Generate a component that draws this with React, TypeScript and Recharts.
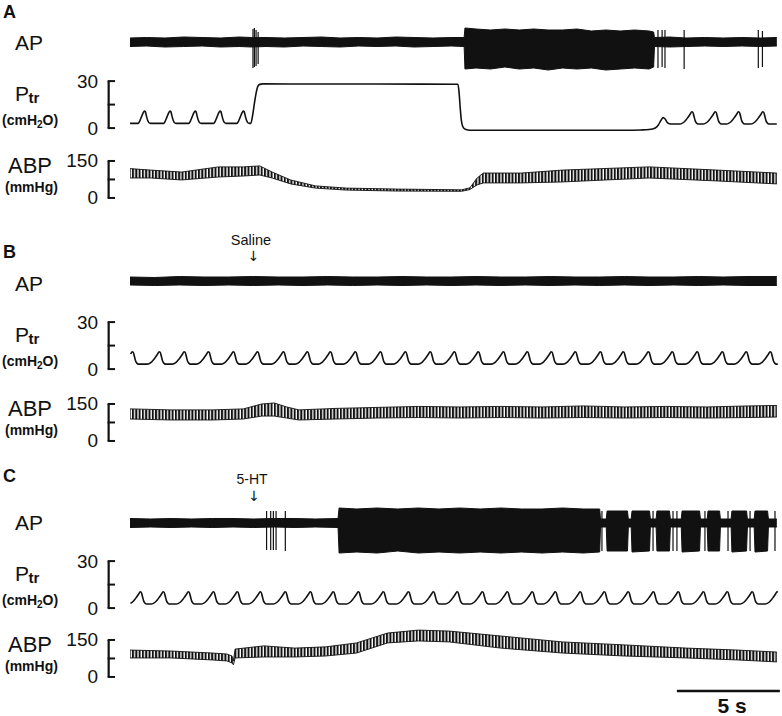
import React from 'react';
import { ComposedChart, Area, Line, XAxis, YAxis, ReferenceLine } from 'recharts';

// ---------------- DATA ----------------
// Time axis in seconds (0 = start of every trace)

// Breath shape templates (time after onset in s, cmH2O above baseline)
const slowBreathT = [0, 0.1, 0.2, 0.3, 0.4, 0.5, 0.57, 0.62, 0.68, 0.74, 0.8, 0.88];
const slowBreathV = [0, 0.4, 1.3, 2.7, 4.5, 6.4, 7.8, 7.6, 5.0, 2.0, 0.6, 0];
const quickBreathT = [0, 0.08, 0.16, 0.24, 0.31, 0.35, 0.41, 0.47, 0.53, 0.6];
const quickBreathV = [0, 1.5, 4, 6.5, 7.8, 7.5, 4.5, 1.8, 0.4, 0];

// Ptr peak times (s)
const ptrA_prePeaks = [0.7, 1.94, 3.16, 4.37, 5.5];
const ptrA_postPeaks = [27.27, 28.4, 29.53, 30.71];
const ptrA_hold: [number, number][] = [
  [5.86, 3], [5.95, 8], [6.04, 16], [6.13, 23], [6.21, 26.8], [6.3, 27.9], [6.45, 28.2],
  [9, 28.1], [12, 28.1], [15.92, 28.0], [15.98, 22], [16.03, 13], [16.08, 5.5], [16.14, 1.5],
  [16.24, -0.5], [16.4, -1.2], [16.6, -1.4], [20, -1.4], [24.0, -1.4], [24.8, -1.2],
  [25.2, -0.9], [25.5, 0.1], [25.65, 2], [25.78, 5], [25.88, 6.7], [25.98, 5.8], [26.1, 3.3], [26.25, 2.6],
];
const ptrB_peaks = [0.1, 1.41, 2.62, 3.79, 5.0, 6.17, 7.43, 8.59, 9.71, 10.92, 12.14, 13.35, 14.56, 15.73,
  16.89, 18.11, 19.27, 20.44, 21.6, 22.82, 23.93, 25.15, 26.31, 27.52, 28.74, 29.9, 31.07];
const ptrC_peaks = [0.49, 1.6, 2.82, 4.03, 5.19, 6.31, 7.52, 8.74, 9.85, 11.07, 12.28, 13.5, 14.71, 15.87,
  17.09, 18.3, 19.51, 20.63, 21.84, 23.01, 24.17, 25.39, 26.6, 27.82, 28.98, 30.19, 31.41];

// AP envelopes [t, low, high] (arbitrary units)
const apA: [number, number, number][] = [
  [0, -4.5, 4], [0.8, -4, 4.5], [1.7, -5, 4], [2.6, -4.5, 5], [3.5, -4, 4.5], [4.4, -5, 4], [5.3, -4.5, 5],
  [5.9, -5, 4.5], [6.6, -4.5, 4.5], [7.5, -5, 4], [8.4, -4, 4.5], [9.3, -4.5, 5], [10.2, -5, 4], [11.1, -4, 4.5],
  [12.0, -4.5, 4], [12.9, -4, 5], [13.8, -5, 4.5], [14.7, -4.5, 4], [15.6, -4, 4.5], [16.22, -4.5, 4.5],
  [16.26, -27, 14], [16.8, -26, 13], [17.5, -27, 12], [18.2, -25, 13], [18.9, -27, 12], [19.6, -26, 13],
  [20.3, -28, 12], [21.0, -26, 12], [21.7, -27, 13], [22.4, -26, 11], [23.1, -28, 12], [23.8, -27, 11],
  [24.5, -26, 12], [25.2, -27, 11], [25.42, -25, 10],
  [25.46, -4.5, 4.5], [26.2, -5, 5], [27.0, -4.5, 4], [27.9, -4, 4.5], [28.8, -4.5, 4], [29.7, -4, 4.5],
  [30.6, -4.5, 4], [31.4, -4, 4.5],
];
const apA_spikes: [number, number, number][] = [
  [5.97, -26, 13], [6.04, -25, 14], [6.12, -24, 12], [6.22, -22, 10],
  [25.63, -26, 12], [25.83, -25, 12], [25.97, -26, 12], [26.9, -27, 12], [30.5, -26, 12], [30.7, -25, 11],
];
const apB: [number, number, number][] = [
  [0, -4, 4], [1.2, -4.5, 3.5], [2.4, -4, 4.5], [3.6, -4.5, 4], [4.8, -4, 4], [6, -4.5, 4.5], [7.2, -4, 4],
  [8.4, -4.5, 4], [9.6, -4, 4.5], [10.8, -4.5, 4], [12, -4, 4], [13.2, -4.5, 4.5], [14.4, -4, 4], [15.6, -4.5, 4],
  [16.8, -4, 4.5], [18, -4.5, 4], [19.2, -4, 4], [20.4, -4.5, 4.5], [21.6, -4, 4], [22.8, -4.5, 4],
  [24, -4, 4.5], [25.2, -4.5, 4], [26.4, -4, 4], [27.6, -4.5, 4.5], [28.8, -4, 4], [30, -4.5, 4.5], [31.4, -4.5, 4.5],
];
const apC: [number, number, number][] = [
  [0, -4.5, 4.5], [1, -4, 4], [2, -4.5, 4.5], [3, -4, 4], [4, -4.5, 4.5], [5, -4, 4.5], [6, -4.5, 4],
  [7, -4, 4.5], [8, -4.5, 4.5], [9, -4, 4], [10.1, -4.5, 4.5],
  [10.15, -30, 15], [11, -29, 14], [12, -30, 15], [13, -28, 14], [14, -30, 15], [15, -29, 14], [16, -30, 15],
  [17, -29, 14], [18, -30, 15], [19, -29, 14], [20, -30, 14], [21, -29, 15], [22, -30, 14], [22.8, -29, 14],
  [22.84, -4, 4], [23.12, -4, 4], [23.16, -28, 12], [24.15, -28, 12], [24.19, -4, 4], [24.33, -4, 4],
  [24.37, -29, 12], [25.22, -28, 12], [25.26, -4, 4], [25.54, -4, 4], [25.58, -28, 12], [26.19, -28, 12],
  [26.23, -4, 4], [26.76, -4, 4], [26.8, -29, 12], [27.65, -28, 12], [27.69, -4, 4], [28.02, -4, 4],
  [28.06, -28, 12], [28.62, -28, 12], [28.66, -4, 4], [29.18, -4, 4], [29.22, -29, 12], [29.93, -28, 12],
  [29.97, -4, 4], [30.3, -4, 4], [30.34, -29, 12], [30.95, -28, 12], [30.99, -4, 4], [31.4, -4, 4],
];
const apC_spikes: [number, number, number][] = [
  [6.63, -27, 12], [6.83, -27, 12], [6.96, -27, 12], [7.09, -27, 12], [7.54, -28, 12],
  [22.91, -28, 12], [25.39, -28, 12], [26.36, -28, 12], [26.55, -28, 12], [27.91, -28, 12],
  [29.03, -28, 12], [30.1, -28, 12], [31.31, -28, 12],
];

// ABP envelopes [t, low, high] in mmHg
const abpA: [number, number, number][] = [
  [0, 81, 119], [1, 81, 113], [2.5, 73, 105], [4.3, 85, 126], [5.5, 89, 126], [6.3, 93, 130], [6.9, 81, 105],
  [7.8, 57, 73], [9.0, 40, 49], [10.5, 32, 40], [13, 28, 36], [16.1, 27, 33], [16.5, 34, 41], [16.85, 53, 81],
  [17.15, 61, 101], [19, 61, 101], [21, 65, 113], [25.2, 81, 126], [28.5, 69, 113], [31.4, 57, 101],
];
const abpB: [number, number, number][] = [
  [0, 89, 130], [2, 85, 126], [4, 85, 126], [5.5, 89, 130], [6.4, 101, 150], [7.0, 101, 154], [7.6, 93, 138],
  [8.2, 85, 126], [10, 89, 132], [12, 93, 136], [14, 95, 140], [16, 93, 138], [18, 95, 140], [20, 93, 138],
  [22, 95, 142], [24, 93, 138], [26, 95, 140], [28, 93, 138], [30, 95, 142], [31.4, 97, 144],
];
const abpC: [number, number, number][] = [
  [0, 77, 109], [2, 77, 105], [4, 69, 97], [4.7, 65, 93], [4.95, 57, 85], [5.02, 49, 65], [5.1, 77, 113],
  [6.5, 81, 126], [8, 81, 117], [9.5, 85, 122], [11, 97, 138], [12.5, 138, 178], [14, 146, 190],
  [15.5, 142, 186], [18, 117, 166], [21, 97, 142], [24, 85, 130], [27, 77, 117], [29.5, 69, 109], [31.4, 61, 101],
];

// Scale labels
const ptrTicks = [0, 30];
const abpTicks = [0, 150];
const SCALE_BAR_SECONDS = 5;

// ---------------- LAYOUT ----------------
const W = 782;
const H = 716;
const PX_PER_S = 20.6;
const TRACE_X0 = 130;
const PLOT_LEFT = 108;
const X_MIN = -(TRACE_X0 - PLOT_LEFT) / PX_PER_S;
const X_MAX = (W - TRACE_X0) / PX_PER_S;
const FONT = '"Liberation Sans", Arial, Helvetica, sans-serif';

const PANELS = [
  { key: 'A', letterY: 18, ap: 42, apLabel: 49.5, ptr0: 128, abp0: 198 },
  { key: 'B', letterY: 258, ap: 281, apLabel: 291, ptr0: 369, abp0: 441 },
  { key: 'C', letterY: 482, ap: 522.5, apLabel: 530, ptr0: 608, abp0: 677 },
];

function breathTrain(peaks: number[], shapeT: number[], shapeV: number[], base: number, tFrom: number, tTo: number) {
  const peakIdx = shapeV.indexOf(Math.max(...shapeV));
  const pts: { t: number; v: number }[] = [];
  peaks.forEach((p) => {
    shapeT.forEach((dt, i) => {
      const t = p - shapeT[peakIdx] + dt;
      if (t >= tFrom && t <= tTo) pts.push({ t, v: base + shapeV[i] });
    });
  });
  return pts;
}

const ptrAData = [
  { t: 0, v: 3 },
  ...breathTrain(ptrA_prePeaks, quickBreathT, quickBreathV, 3, 0, 5.85),
  ...ptrA_hold.map(([t, v]) => ({ t, v })),
  ...breathTrain(ptrA_postPeaks, slowBreathT, slowBreathV, 2.6, 26.3, 31.4),
  { t: 31.4, v: 2.6 },
];
const ptrBData = [...breathTrain(ptrB_peaks, slowBreathT, slowBreathV, 3.2, 0, 31.45), { t: 31.45, v: 3.2 }];
const ptrCData = breathTrain(ptrC_peaks, slowBreathT, slowBreathV, 2.6, 0, 31.5);

const toRange = (arr: [number, number, number][]) => arr.map(([t, lo, hi]) => ({ t, r: [lo, hi] }));

const AP_DOMAIN: [number, number] = [-35, 20];
const PTR_DOMAIN: [number, number] = [-9, 39];
const ABP_DOMAIN: [number, number] = [-50, 235];
const ABP_DOMAIN_LAST: [number, number] = [-80, 235];
const PTR_K = 47 / 30;
const ABP_K = 37 / 150;

const BracketTick = (props: any) => {
  const { x, y, payload } = props;
  return (
    <text x={x - 10} y={y} textAnchor="end" dominantBaseline="central" fontSize={19} fontFamily={FONT} fill="#111">
      {payload.value}
    </text>
  );
};

function bracket(top: number) {
  const x0 = X_MIN + 0.03;
  const x1 = X_MIN + 0.34;
  const mid = top / 2;
  return [
    <ReferenceLine key="bv" segment={[{ x: x0, y: 0 }, { x: x0, y: top }]} stroke="#111" strokeWidth={2.2} ifOverflow="visible" />,
    <ReferenceLine key="b0" segment={[{ x: x0 - 0.05, y: 0 }, { x: x1, y: 0 }]} stroke="#111" strokeWidth={2} ifOverflow="visible" />,
    <ReferenceLine key="bm" segment={[{ x: x0 - 0.05, y: mid }, { x: x1, y: mid }]} stroke="#111" strokeWidth={2} ifOverflow="visible" />,
    <ReferenceLine key="bt" segment={[{ x: x0 - 0.05, y: top }, { x: x1, y: top }]} stroke="#111" strokeWidth={2} ifOverflow="visible" />,
  ];
}

function Frame({ top, height, data, domain, ticks, children }: any) {
  const withAxis = !!ticks;
  return (
    <div style={{ position: 'absolute', left: 0, top, width: W, height }}>
      <ComposedChart
        width={W}
        height={height}
        data={data}
        margin={{ top: 0, right: 0, bottom: 0, left: withAxis ? PLOT_LEFT - 60 : PLOT_LEFT }}
      >
        <XAxis dataKey="t" type="number" domain={[X_MIN, X_MAX]} allowDataOverflow hide />
        {withAxis ? (
          <YAxis
            type="number"
            domain={domain}
            allowDataOverflow
            width={60}
            ticks={ticks}
            interval={0}
            tick={<BracketTick />}
            axisLine={false}
            tickLine={false}
            tickSize={0}
            tickMargin={0}
          />
        ) : (
          <YAxis type="number" domain={domain} allowDataOverflow hide />
        )}
        {children}
      </ComposedChart>
    </div>
  );
}

function APTrace({ center, data, spikes }: any) {
  const top = center - AP_DOMAIN[1];
  const height = AP_DOMAIN[1] - AP_DOMAIN[0];
  return (
    <Frame top={top} height={height} data={toRange(data)} domain={AP_DOMAIN}>
      <Area
        type="linear"
        dataKey="r"
        stroke="#111"
        strokeWidth={1}
        fill="#111"
        fillOpacity={1}
        dot={false}
        activeDot={false}
        isAnimationActive={false}
      />
      {(spikes || []).map(([t, lo, hi]: number[], i: number) => (
        <ReferenceLine key={i} segment={[{ x: t, y: lo }, { x: t, y: hi }]} stroke="#111" strokeWidth={1.2} ifOverflow="visible" />
      ))}
    </Frame>
  );
}

function PtrTrace({ zeroY, data }: any) {
  const top = zeroY - PTR_DOMAIN[1] * PTR_K;
  const height = (PTR_DOMAIN[1] - PTR_DOMAIN[0]) * PTR_K;
  return (
    <Frame top={top} height={height} data={data} domain={PTR_DOMAIN} ticks={ptrTicks}>
      {bracket(30)}
      <Line type="monotone" dataKey="v" stroke="#111" strokeWidth={1.6} dot={false} activeDot={false} isAnimationActive={false} />
    </Frame>
  );
}

function ABPTrace({ zeroY, data, id, last }: any) {
  const dom = last ? ABP_DOMAIN_LAST : ABP_DOMAIN;
  const top = zeroY - dom[1] * ABP_K;
  const height = (dom[1] - dom[0]) * ABP_K;
  const scaleEnd = 31.55;
  return (
    <Frame top={top} height={height} data={toRange(data)} domain={dom} ticks={abpTicks}>
      <defs>
        <pattern id={`beats-${id}`} patternUnits="userSpaceOnUse" width={3.3} height={8}>
          <rect x={0} y={0} width={2} height={8} fill="#111" />
        </pattern>
      </defs>
      {bracket(150)}
      <Area
        type="linear"
        dataKey="r"
        stroke="#111"
        strokeWidth={0.9}
        fill={`url(#beats-${id})`}
        fillOpacity={1}
        dot={false}
        activeDot={false}
        isAnimationActive={false}
      />
      {last ? (
        <ReferenceLine
          segment={[{ x: scaleEnd - SCALE_BAR_SECONDS, y: -57 }, { x: scaleEnd, y: -57 }]}
          stroke="#111"
          strokeWidth={2.4}
          ifOverflow="visible"
        />
      ) : null}
    </Frame>
  );
}

function Labels() {
  return (
    <svg width={W} height={H} style={{ position: 'absolute', left: 0, top: 0, pointerEvents: 'none' }}>
      <g fontFamily={FONT} fill="#111">
        {PANELS.map((p) => (
          <g key={p.key}>
            <text x={3} y={p.letterY} fontSize={18} fontWeight="bold">{p.key}</text>
            <text x={15} y={p.apLabel} fontSize={21}>AP</text>
            <text x={15} y={p.ptr0 - 27.5} fontSize={21}>P</text>
            <text x={28.5} y={p.ptr0 - 25} fontSize={15} fontWeight="bold">tr</text>
            <text x={2} y={p.ptr0 - 3} fontSize={14} fontWeight="bold">
              (cmH<tspan fontSize={10} dy={3}>2</tspan><tspan dy={-3}>O)</tspan>
            </text>
            <text x={8} y={p.abp0 - 25} fontSize={22}>ABP</text>
            <text x={5} y={p.abp0 - 6} fontSize={14} fontWeight="bold">(mmHg)</text>
          </g>
        ))}
        <text x={251} y={244.5} fontSize={14.5} textAnchor="middle">Saline</text>
        <text x={253.5} y={261} fontSize={14} textAnchor="middle" fontFamily="DejaVu Sans">↓</text>
        <text x={252} y={484} fontSize={14} textAnchor="middle">5-HT</text>
        <text x={254} y={500.5} fontSize={14} textAnchor="middle" fontFamily="DejaVu Sans">↓</text>
        <text x={732} y={713} fontSize={21} fontWeight="bold" textAnchor="middle">5 s</text>
      </g>
    </svg>
  );
}

export default function App() {
  const [A, B, C] = PANELS;
  return (
    <div style={{ position: 'absolute', left: 0, top: 0, width: W, height: H, background: '#fff', overflow: 'hidden' }}>
      <APTrace center={A.ap} data={apA} spikes={apA_spikes} />
      <PtrTrace zeroY={A.ptr0} data={ptrAData} />
      <ABPTrace zeroY={A.abp0} data={abpA} id="A" />
      <APTrace center={B.ap} data={apB} spikes={[]} />
      <PtrTrace zeroY={B.ptr0} data={ptrBData} />
      <ABPTrace zeroY={B.abp0} data={abpB} id="B" />
      <APTrace center={C.ap} data={apC} spikes={apC_spikes} />
      <PtrTrace zeroY={C.ptr0} data={ptrCData} />
      <ABPTrace zeroY={C.abp0} data={abpC} id="C" last />
      <Labels />
    </div>
  );
}
